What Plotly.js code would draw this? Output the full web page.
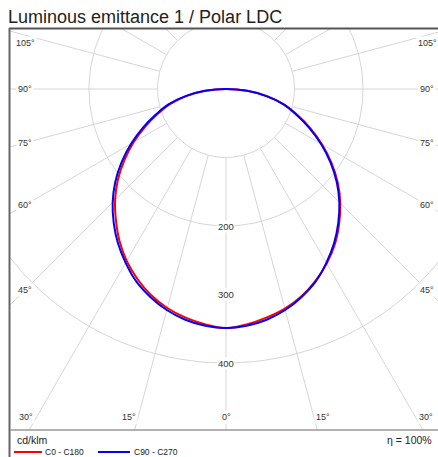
<!DOCTYPE html>
<html><head><meta charset="utf-8">
<script src="https://cdn.plot.ly/plotly-3.0.1.min.js"></script>
<style>html,body{margin:0;padding:0;background:#fff;}#chart{width:438px;height:457px;}</style>
</head><body><div id="chart"></div>
<script>
// ---- data (cd/klm), gamma measured from straight down ----
const gamma = [0,5,10,15,20,25,30,35,40,45,50,55,60,65,70,75,80,85,90];
const c90  = [349,347,342,334,323,310,293,275,255,234,211,186,160,134,109,87,60,31,0];
const c270 = [349,347,342,334,323,310,293,275,255,234,211,186,160,134,109,87,60,31,0];
const c0   = [349,345,339,332,322,309,294,277,257,236,213,188,162,136,111,88,61,31,0];
const c180 = [349,345,339,331,320,306,290,271,250,229,206,181,156,130,106,84,58,30,0];
const seriesNames = ["C0 - C180", "C90 - C270"];
const seriesColors = ["#ff0000", "#0000ff"];
const gridRadii = [100, 200, 400];
const radialLabels = ["200", "300", "400"];
const radialLabelValues = [200, 300, 400];
const spokeAngles = [0,15,30,45,60,75,90,105,120,135,150,165,180];
const sideLabelAngles = [105, 90, 75, 60, 45];
const bottomLabelAngles = [-30, -15, 0, 15, 30];
const unitLabel = "cd/klm";
const effLabel = "\u03b7 = 100%";
const titleText = "Luminous emittance 1 / Polar LDC";

// ---- geometry ----
const W = 438, H = 457;
const PL = 10, PR = 438, PT = 28, PB = 430;
const CX = 226, CY = 89, K = 0.685; // centre pixel, px per cd/klm
const xRange = [(PL - CX) / K, (PR - CX) / K];
const yRange = [(CY - PB) / K, (CY - PT) / K];
const rad = d => d * Math.PI / 180;
const px2dx = p => (p - CX) / K;
const px2dy = p => (CY - p) / K;
const px2px = p => (p - PL) / (PR - PL);
const py2py = p => (PB - p) / (PB - PT);
const FONT = "Liberation Sans, Arial, Helvetica, sans-serif";

function pt(side, g, r) { return [side * r * Math.sin(rad(g)), -r * Math.cos(rad(g))]; }

function curve(g, vLeft, vRight) {
  const x = [], y = [];
  for (let i = g.length - 1; i >= 0; i--) { const p = pt(-1, g[i], vLeft[i]); x.push(p[0]); y.push(p[1]); }
  for (let i = 1; i < g.length; i++) { const p = pt(1, g[i], vRight[i]); x.push(p[0]); y.push(p[1]); }
  return {x, y};
}

// grid
const gx = [], gy = [];
gridRadii.forEach(r => {
  for (let a = 0; a <= 360; a += 2) { gx.push(r * Math.cos(rad(a))); gy.push(r * Math.sin(rad(a))); }
  gx.push(null); gy.push(null);
});
spokeAngles.forEach(a => {
  [-1, 1].forEach(side => {
    if ((a === 0 || a === 180) && side === 1) return;
    const p0 = pt(side, a, gridRadii[0]), p1 = pt(side, a, 1200);
    gx.push(p0[0], p1[0], null); gy.push(p0[1], p1[1], null);
  });
});

const red = curve(gamma, c180, c0);
const blue = curve(gamma, c270, c90);

const traces = [
  {type:'scatter', mode:'lines', x:gx, y:gy, line:{color:'#d6d6d6', width:1}, hoverinfo:'skip', showlegend:false},
  {type:'scatter', mode:'lines', name:seriesNames[0], x:red.x, y:red.y, line:{color:seriesColors[0], width:2, shape:'spline', smoothing:0.6}, showlegend:false},
  {type:'scatter', mode:'lines', name:seriesNames[1], x:blue.x, y:blue.y, line:{color:seriesColors[1], width:2, shape:'spline', smoothing:1}, showlegend:false}
];

const ann = [];
radialLabelValues.forEach((v, i) => ann.push({x:0, y:-v, xref:'x', yref:'y', text:radialLabels[i], showarrow:false,
  font:{family:FONT, size:9.5, color:'#333'}, bgcolor:'#fff', borderpad:0}));
sideLabelAngles.forEach(a => {
  [-1, 1].forEach(side => {
    const xp = side < 0 ? 25 : 427;
    const dx = Math.abs(xp - CX);
    let yp = CY + dx * Math.cos(rad(a)) / Math.sin(rad(a));
    yp = Math.max(43, yp);
    ann.push({x:px2dx(xp), y:px2dy(yp), xref:'x', yref:'y', text:a + '\u00b0', showarrow:false,
      font:{family:FONT, size:9, color:'#333'}, bgcolor:'#fff', borderpad:1});
  });
});
bottomLabelAngles.forEach(a => {
  const yp = 417;
  let xp = CX + (yp - CY) * Math.tan(rad(a));
  let anchor = a < 0 ? 'right' : (a > 0 ? 'left' : 'center');
  if (Math.abs(a) >= 30) { xp = a < 0 ? 17 : 435; anchor = a < 0 ? 'left' : 'right'; }
  ann.push({x:px2dx(xp), y:px2dy(yp), xref:'x', yref:'y', xanchor:anchor, text:Math.abs(a) + '\u00b0', showarrow:false,
    font:{family:FONT, size:9, color:'#333'}, bgcolor:'#fff', borderpad:1});
});
ann.push({x:px2px(15), y:py2py(440), xref:'paper', yref:'paper', xanchor:'left', yanchor:'middle', text:unitLabel,
  showarrow:false, font:{family:FONT, size:10.5, color:'#222'}});
ann.push({x:px2px(434), y:py2py(440), xref:'paper', yref:'paper', xanchor:'right', yanchor:'middle', text:effLabel,
  showarrow:false, font:{family:FONT, size:10.5, color:'#222'}});
const legX = [[14, 42, 44], [98, 130, 133]];
const shapes = [];
seriesNames.forEach((n, i) => {
  shapes.push({type:'line', xref:'paper', yref:'paper', x0:px2px(legX[i][0]), x1:px2px(legX[i][1]), y0:py2py(452), y1:py2py(452),
    line:{color:seriesColors[i], width:2}});
  ann.push({x:px2px(legX[i][2]), y:py2py(451.5), xref:'paper', yref:'paper', xanchor:'left', yanchor:'middle', text:n,
    showarrow:false, font:{family:FONT, size:8.5, color:'#222'}, borderpad:0});
});
shapes.push({type:'line', xref:'paper', yref:'paper', x0:px2px(9), x1:px2px(440), y0:py2py(28.5), y1:py2py(28.5), line:{color:'#555', width:2}});
shapes.push({type:'line', xref:'paper', yref:'paper', x0:px2px(9.5), x1:px2px(9.5), y0:py2py(28), y1:py2py(460), line:{color:'#666', width:2}});
shapes.push({type:'line', xref:'paper', yref:'paper', x0:px2px(10), x1:px2px(440), y0:py2py(430), y1:py2py(430), line:{color:'#999', width:1.5}});

const layout = {
  width:W, height:H, margin:{l:PL, r:W-PR, t:PT, b:H-PB}, paper_bgcolor:'#fff', plot_bgcolor:'#fff',
  title:{text:titleText, x:8/W, xanchor:'left', xref:'container', y:1-16.5/H, yref:'container', yanchor:'middle',
    font:{family:FONT, size:18, color:'#222'}},
  xaxis:{range:xRange, visible:false, fixedrange:true},
  yaxis:{range:yRange, visible:false, fixedrange:true},
  annotations:ann, shapes:shapes, showlegend:false
};
Plotly.newPlot('chart', traces, layout, {displayModeBar:false, staticPlot:true});
</script></body></html>
